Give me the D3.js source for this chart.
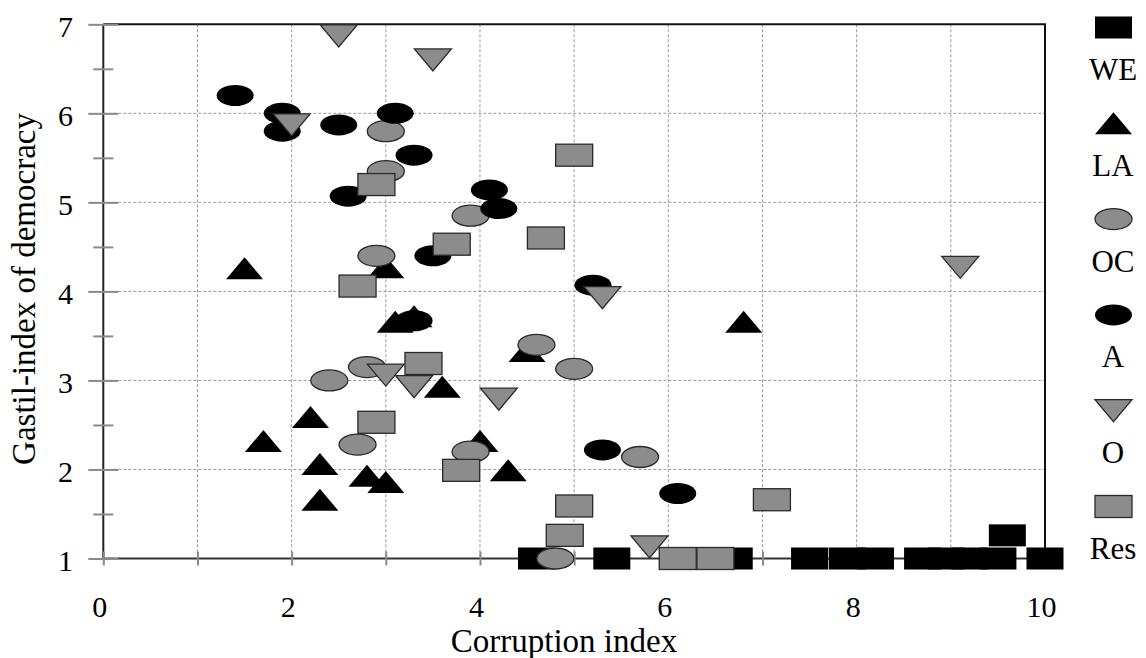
<!DOCTYPE html>
<html>
<head>
<meta charset="utf-8">
<script src="https://cdn.jsdelivr.net/npm/d3@7"></script>
<style>
  html, body { margin: 0; padding: 0; background: #fff; }
  svg { display: block; }
  svg text { font-family: "Liberation Serif", "Tinos", "Times New Roman", Times, "DejaVu Serif", serif !important; fill: #000; }
</style>
</head>
<body>
<svg id="chart" width="1146" height="658"></svg>
<script>
// ---- data ----
const seriesNames = ["WE", "LA", "OC", "A", "O", "Res"];
const xTickValues = [0, 1, 2, 3, 4, 5, 6, 7, 8, 9, 10];
const xTickLabels = ["0", "", "2", "", "4", "", "6", "", "8", "", "10"];
const yTickValues = [1, 2, 3, 4, 5, 6, 7];
const yMinorTicks = [1.5, 2.5, 3.5, 4.5, 5.5, 6.5];

const WE = [[4.6,1],[5.4,1],[6.7,1],[7.5,1],[7.9,1],[8.2,1],[8.7,1],[8.95,1],[9.2,1],[9.5,1],[9.6,1.26],[10,1]];
const LA = [[1.5,4.26],[1.7,2.32],[2.2,2.59],[2.3,2.06],[2.3,1.66],[2.8,1.93],[3.0,1.86],[3.0,4.27],[3.1,3.66],[3.3,3.72],[3.6,2.93],[4.5,3.33],[4.0,2.32],[4.3,1.99],[6.8,3.66]];
const OC = [[3.0,5.8],[3.0,5.35],[2.9,4.4],[3.9,4.85],[2.4,3.0],[2.8,3.15],[2.7,2.28],[4.6,3.4],[5.0,3.13],[3.9,2.2],[5.7,2.14],[4.8,1.0]];
const A  = [[1.4,6.2],[1.9,6.0],[1.9,5.8],[2.5,5.87],[2.6,5.07],[3.1,6.0],[3.3,5.53],[4.1,5.14],[4.2,4.93],[3.5,4.4],[5.2,4.07],[3.3,3.67],[5.3,2.22],[6.1,1.73]];
const O  = [[2.5,6.87],[2.0,5.87],[3.5,6.6],[5.3,3.93],[9.1,4.27],[3.0,3.06],[3.3,2.93],[4.2,2.79],[5.8,1.13]];
const Res = [[2.9,5.2],[2.7,4.06],[5.0,5.53],[3.7,4.53],[4.7,4.6],[2.9,2.53],[3.4,3.19],[3.8,1.99],[5.0,1.59],[4.9,1.26],[7.1,1.66],[6.1,1.0],[6.5,1.0]];

const seriesData = [WE, LA, OC, A, O, Res];
const seriesShape = ["rect", "tri", "ellipse", "ellipse", "itri", "rect"];
const seriesFill = ["#000", "#000", "#8c8c8c", "#000", "#8c8c8c", "#8c8c8c"];
const seriesStroke = ["none", "none", "#2a2a2a", "none", "#2a2a2a", "#2a2a2a"];

const FONT = '"Liberation Serif", "Tinos", "Times New Roman", Times, "DejaVu Serif", serif';

// ---- layout ----
const svg = d3.select("#chart");
const x = d3.scaleLinear().domain([0, 10]).range([103.3, 1045]);
const y = d3.scaleLinear().domain([1, 7]).range([558.5, 24.3]);
const x0 = x(0), x1 = x(10), y0 = y(1), y1 = y(7);
const MW = 37, MH = 22;

// gridlines
const grid = svg.append("g");
grid.selectAll("line.v").data(xTickValues.filter(d => d > 0 && d < 10)).join("line")
  .attr("x1", d => x(d)).attr("x2", d => x(d)).attr("y1", y1).attr("y2", y0)
  .attr("stroke", "#9a9a9a").attr("stroke-width", 1).attr("stroke-dasharray", "3,2");
grid.selectAll("line.h").data(yTickValues.filter(d => d > 1 && d < 7)).join("line")
  .attr("x1", x0).attr("x2", x1).attr("y1", d => y(d)).attr("y2", d => y(d))
  .attr("stroke", "#9a9a9a").attr("stroke-width", 1).attr("stroke-dasharray", "3,2");

// frame top/right
svg.append("line").attr("x1", x0).attr("x2", x1 + 1).attr("y1", y1).attr("y2", y1)
  .attr("stroke", "#111").attr("stroke-width", 2);
svg.append("line").attr("x1", x1).attr("x2", x1).attr("y1", y1).attr("y2", y0)
  .attr("stroke", "#111").attr("stroke-width", 2);
// axis lines
svg.append("line").attr("x1", x0).attr("x2", x1).attr("y1", y0).attr("y2", y0)
  .attr("stroke", "#333").attr("stroke-width", 2);
svg.append("line").attr("x1", x0).attr("x2", x0).attr("y1", y1).attr("y2", y0)
  .attr("stroke", "#222").attr("stroke-width", 2);

// y major ticks
const yAxis = svg.append("g").attr("transform", `translate(${x0 + 15},0)`)
  .call(d3.axisLeft(y).tickValues(yTickValues).tickSize(30).tickPadding(15.3).tickFormat(d3.format("d")));
yAxis.attr("font-family", FONT);
yAxis.select(".domain").remove();
yAxis.selectAll(".tick line").attr("stroke", "#8a8a8a").attr("stroke-width", 2);
yAxis.selectAll(".tick text").attr("font-size", 30).attr("dy", "0.41em").attr("font-family", FONT);
// y minor ticks
const yMinor = svg.append("g").attr("transform", `translate(${x0 + 10},0)`)
  .call(d3.axisLeft(y).tickValues(yMinorTicks).tickSize(20).tickFormat(""));
yMinor.select(".domain").remove();
yMinor.selectAll(".tick line").attr("stroke", "#8a8a8a").attr("stroke-width", 2);

// x ticks
const xAxis = svg.append("g").attr("transform", `translate(0,${y0 - 7})`)
  .call(d3.axisBottom(x).tickValues(xTickValues).tickSize(14).tickPadding(30.2)
    .tickFormat((d, i) => xTickLabels[i]));
xAxis.attr("font-family", FONT);
xAxis.select(".domain").remove();
xAxis.selectAll(".tick line").attr("stroke", "#8a8a8a").attr("stroke-width", 2);
xAxis.selectAll(".tick text").attr("font-size", 30).attr("dx", -4).attr("font-family", FONT);

// axis titles
svg.append("text").attr("x", 564).attr("y", 652).attr("text-anchor", "middle")
  .attr("font-family", FONT).attr("font-size", 33).text("Corruption index");
svg.append("text").attr("transform", "translate(35,289) rotate(-90)").attr("text-anchor", "middle")
  .attr("font-family", FONT).attr("font-size", 33).text("Gastil-index of democracy");

// marker drawing
function drawMarker(g, shape, cx, cy, fill, stroke) {
  let el;
  if (shape === "rect") {
    el = g.append("rect").attr("x", cx - MW / 2).attr("y", cy - MH / 2).attr("width", MW).attr("height", MH);
  } else if (shape === "ellipse") {
    el = g.append("ellipse").attr("cx", cx).attr("cy", cy).attr("rx", MW / 2).attr("ry", MH / 2 - 0.5);
  } else if (shape === "tri") {
    el = g.append("path").attr("d", `M${cx - MW / 2},${cy + MH / 2}L${cx + MW / 2},${cy + MH / 2}L${cx},${cy - MH / 2}Z`);
  } else {
    el = g.append("path").attr("d", `M${cx - MW / 2},${cy - MH / 2}L${cx + MW / 2},${cy - MH / 2}L${cx},${cy + MH / 2}Z`);
  }
  el.attr("fill", fill).attr("stroke", stroke).attr("stroke-width", stroke === "none" ? 0 : 1.3);
}

const marks = svg.append("g");
seriesData.forEach((data, si) => {
  const g = marks.append("g").attr("class", "series-" + seriesNames[si]);
  data.forEach(d => drawMarker(g, seriesShape[si], x(d[0]), y(d[1]), seriesFill[si], seriesStroke[si]));
});

// legend
const legend = svg.append("g");
const legX = 1113.5, legSym0 = 27.5, legLab0 = 80, legStep = 95.8;
seriesNames.forEach((name, i) => {
  drawMarker(legend, seriesShape[i], legX, legSym0 + i * legStep, seriesFill[i], seriesStroke[i]);
  legend.append("text").attr("x", 1113).attr("y", legLab0 + i * legStep)
    .attr("text-anchor", "middle").attr("font-family", FONT).attr("font-size", 31).text(name);
});
</script>
</body>
</html>
